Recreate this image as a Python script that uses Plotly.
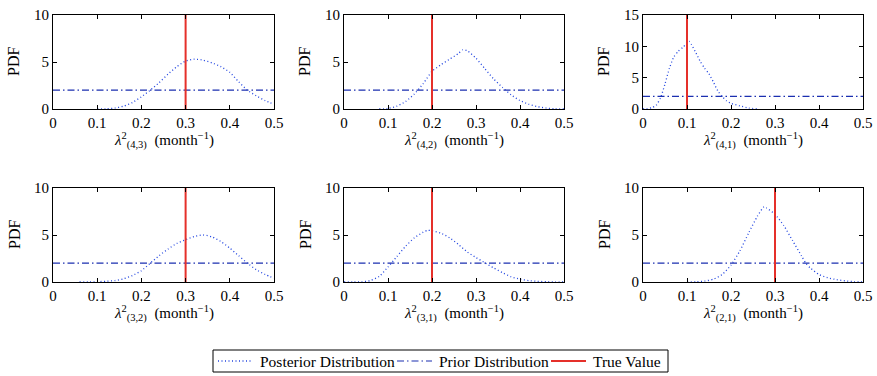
import plotly.graph_objects as go

# ---- data ----
panel_subs = ["(4,3)", "(4,2)", "(4,1)", "(3,2)", "(3,1)", "(2,1)"]
true_values = [0.3, 0.2, 0.1, 0.3, 0.2, 0.3]
prior_pdf = 2.0
prior_x = [0.0, 0.5]
y_max = [10, 10, 15, 10, 10, 10]
y_ticks = [[0, 5, 10], [0, 5, 10], [0, 5, 10, 15], [0, 5, 10], [0, 5, 10], [0, 5, 10]]
x_ticks = [0, 0.1, 0.2, 0.3, 0.4, 0.5]
x_tick_labels = ["0", "0.1", "0.2", "0.3", "0.4", "0.5"]
legend_names = ["Posterior Distribution", "Prior Distribution", "True Value"]

post_x_43 = [0.10, 0.12, 0.14, 0.16, 0.18, 0.20, 0.22, 0.24, 0.26, 0.28, 0.30, 0.32, 0.34,
             0.36, 0.38, 0.40, 0.42, 0.44, 0.46, 0.48, 0.50]
post_y_43 = [0.0, 0.02, 0.1, 0.3, 0.7, 1.3, 2.0, 2.8, 3.7, 4.5, 5.1, 5.3, 5.2,
             4.9, 4.5, 3.9, 2.9, 2.0, 1.4, 0.9, 0.5]

post_x_42 = [0.08, 0.10, 0.12, 0.14, 0.16, 0.18, 0.20, 0.22, 0.24, 0.26, 0.27, 0.28, 0.30,
             0.32, 0.34, 0.36, 0.38, 0.40, 0.42, 0.44, 0.46, 0.48, 0.50]
post_y_42 = [0.0, 0.05, 0.3, 0.8, 1.6, 2.7, 4.0, 4.7, 5.3, 5.9, 6.3, 6.2, 5.4,
             4.3, 3.2, 2.3, 1.5, 0.9, 0.5, 0.25, 0.1, 0.03, 0.0]

post_x_41 = [0.0, 0.01, 0.02, 0.03, 0.04, 0.05, 0.06, 0.07, 0.08, 0.09, 0.10, 0.105, 0.11,
             0.12, 0.13, 0.14, 0.15, 0.16, 0.17, 0.18, 0.19, 0.20, 0.22, 0.24, 0.26]
post_y_41 = [0.0, 0.05, 0.2, 0.6, 1.8, 4.0, 6.5, 8.3, 9.2, 9.8, 10.5, 10.8, 10.3,
             9.0, 7.6, 6.5, 5.6, 4.3, 2.9, 2.0, 1.3, 0.9, 0.5, 0.15, 0.0]

post_x_32 = [0.06, 0.08, 0.10, 0.12, 0.14, 0.16, 0.18, 0.20, 0.22, 0.24, 0.26, 0.28, 0.30,
             0.32, 0.34, 0.36, 0.38, 0.40, 0.42, 0.44, 0.46, 0.48, 0.50]
post_y_32 = [0.0, 0.01, 0.03, 0.08, 0.15, 0.35, 0.7, 1.2, 2.0, 2.8, 3.5, 4.1, 4.5,
             4.85, 5.0, 4.8, 4.3, 3.6, 2.8, 2.0, 1.3, 0.8, 0.4]

post_x_31 = [0.00, 0.02, 0.04, 0.06, 0.08, 0.10, 0.12, 0.14, 0.16, 0.18, 0.19, 0.20, 0.22,
             0.24, 0.26, 0.28, 0.30, 0.32, 0.34, 0.36, 0.38, 0.40, 0.42, 0.44, 0.46, 0.48, 0.50]
post_y_31 = [0.0, 0.0, 0.02, 0.15, 0.6, 1.6, 2.7, 3.8, 4.7, 5.3, 5.5, 5.45, 5.2,
             4.7, 4.0, 3.2, 2.6, 2.05, 1.5, 1.0, 0.55, 0.3, 0.15, 0.07, 0.03, 0.01, 0.0]

post_x_21 = [0.10, 0.12, 0.14, 0.16, 0.18, 0.20, 0.22, 0.24, 0.26, 0.275, 0.28, 0.30, 0.32,
             0.34, 0.36, 0.37, 0.38, 0.40, 0.42, 0.44, 0.46, 0.48, 0.50]
post_y_21 = [0.0, 0.03, 0.1, 0.3, 0.8, 1.8, 3.3, 5.2, 7.0, 8.0, 7.9, 7.2, 6.0,
             4.4, 2.8, 2.0, 1.5, 0.8, 0.45, 0.25, 0.12, 0.05, 0.0]

post_xs = [post_x_43, post_x_42, post_x_41, post_x_32, post_x_31, post_x_21]
post_ys = [post_y_43, post_y_42, post_y_41, post_y_32, post_y_31, post_y_21]

# ---- layout geometry ----
W, H = 877, 376
col_px = [(53, 274), (344, 564), (643, 863)]
row_px = [(15, 109), (188, 282)]

FONT = "Liberation Serif"
POST_COLOR = "#2346e0"
PRIOR_COLOR = "#1b2fb0"
TRUE_COLOR = "#e5302a"
POST_DASH = "1px,2.5px"
PRIOR_DASH = "7px,3px,1.5px,3px"


def px_x(p):
    return p / W


def px_y(p):
    return 1 - p / H


fig = go.Figure()
layout = {}
annotations = []
shapes = []
for i in range(6):
    r, c = divmod(i, 3)
    n = "" if i == 0 else str(i + 1)
    xa, ya = "x" + n, "y" + n
    fig.add_trace(go.Scatter(x=post_xs[i], y=post_ys[i], mode="lines", xaxis=xa, yaxis=ya,
                             line=dict(color=POST_COLOR, width=1.3, dash=POST_DASH, shape="spline",
                                       smoothing=0.6),
                             name=legend_names[0], showlegend=False))
    fig.add_trace(go.Scatter(x=prior_x, y=[prior_pdf, prior_pdf], mode="lines", xaxis=xa, yaxis=ya,
                             line=dict(color=PRIOR_COLOR, width=1.2, dash=PRIOR_DASH),
                             name=legend_names[1], showlegend=False))
    fig.add_trace(go.Scatter(x=[true_values[i], true_values[i]], y=[0, y_max[i]], mode="lines",
                             xaxis=xa, yaxis=ya,
                             line=dict(color=TRUE_COLOR, width=2),
                             name=legend_names[2], showlegend=False))
    x0, x1 = col_px[c]
    y0, y1 = row_px[r]
    layout["xaxis" + n] = dict(
        domain=[px_x(x0), px_x(x1)], anchor=ya, range=[0, 0.5],
        tickvals=x_ticks, ticktext=x_tick_labels,
        ticks="inside", ticklen=4, tickcolor="black", showline=True, linecolor="black",
        linewidth=1, mirror="ticks", showgrid=False, zeroline=False, automargin=False,
        tickfont=dict(family=FONT, size=15, color="black"),
    )
    layout["yaxis" + n] = dict(
        domain=[px_y(y1), px_y(y0)], anchor=xa, range=[0, y_max[i]],
        tickvals=y_ticks[i],
        ticks="inside", ticklen=4, tickcolor="black", showline=True, linecolor="black",
        linewidth=1, mirror="ticks", showgrid=False, zeroline=False, automargin=False,
        tickfont=dict(family=FONT, size=15, color="black"),
    )
    # x-axis title
    title = ("<i>λ</i><sup>2</sup><sub>" + panel_subs[i] + "</sub>&nbsp;&nbsp;(month<sup>−1</sup>)")
    annotations.append(dict(text=title, xref="paper", yref="paper",
                            x=px_x((x0 + x1) / 2), y=px_y(y1 + 31), xanchor="center",
                            yanchor="middle", showarrow=False,
                            font=dict(family=FONT, size=15, color="black")))
    # y-axis title
    annotations.append(dict(text="PDF", xref="paper", yref="paper", textangle=-90,
                            x=px_x(x0 - 39), y=px_y((y0 + y1) / 2), xanchor="center",
                            yanchor="middle", showarrow=False,
                            font=dict(family=FONT, size=16, color="black")))

# ---- legend (drawn as a boxed row of samples and labels) ----
leg_box = (213, 350, 668, 372)
leg_mid = (leg_box[1] + leg_box[3]) / 2
shapes.append(dict(type="rect", xref="paper", yref="paper",
                   x0=px_x(leg_box[0]), x1=px_x(leg_box[2]),
                   y0=px_y(leg_box[3]), y1=px_y(leg_box[1]),
                   line=dict(color="black", width=1), fillcolor="white", layer="above"))
leg_samples = [(218, 253, POST_COLOR, POST_DASH, 1.3),
               (397, 432, PRIOR_COLOR, PRIOR_DASH, 1.2),
               (551, 586, TRUE_COLOR, "solid", 2)]
leg_text_x = [258, 437, 591]
for (a, b, col, dash, w), tx, name in zip(leg_samples, leg_text_x, legend_names):
    shapes.append(dict(type="line", xref="paper", yref="paper",
                       x0=px_x(a), x1=px_x(b), y0=px_y(leg_mid), y1=px_y(leg_mid),
                       line=dict(color=col, width=w, dash=dash), layer="above"))
    annotations.append(dict(text=name, xref="paper", yref="paper",
                            x=px_x(tx), y=px_y(leg_mid), xanchor="left", yanchor="middle",
                            showarrow=False, font=dict(family=FONT, size=15.5, color="black")))

fig.update_layout(
    width=W, height=H,
    margin=dict(l=0, r=0, t=0, b=0, autoexpand=False),
    paper_bgcolor="white", plot_bgcolor="white",
    font=dict(family=FONT, size=15, color="black"),
    showlegend=False,
    hovermode=False,
    annotations=annotations,
    shapes=shapes,
    **layout,
)

fig.write_html("out.html", config={"displayModeBar": False, "staticPlot": True},
               post_script="document.body.style.margin='0';document.body.style.overflow='hidden';")
